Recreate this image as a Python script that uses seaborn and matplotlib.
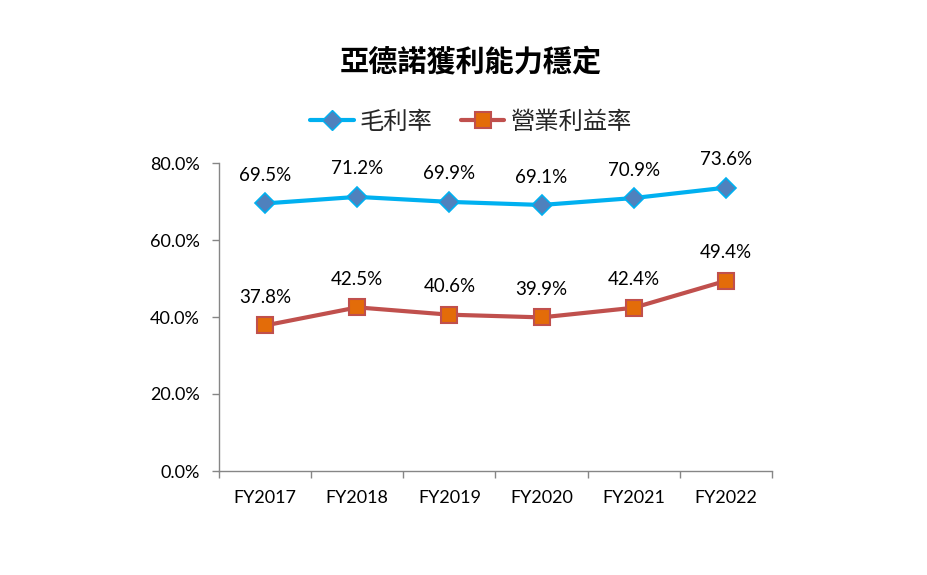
import matplotlib
matplotlib.use("Agg")
import matplotlib.pyplot as plt
import seaborn as sns
import pandas as pd
from matplotlib.ticker import FixedLocator, FuncFormatter
from matplotlib.lines import Line2D

categories = ["FY2017", "FY2018", "FY2019", "FY2020", "FY2021", "FY2022"]
gross_margin = [69.5, 71.2, 69.9, 69.1, 70.9, 73.6]
operating_margin = [37.8, 42.5, 40.6, 39.9, 42.4, 49.4]
yticks = [0, 20, 40, 60, 80]

sns.set_theme(style="white")
plt.rcParams['font.family'] = ['Lato', 'Noto Sans CJK TC', 'DejaVu Sans']

df = pd.DataFrame({"cat": categories, "gm": gross_margin, "om": operating_margin})

fig = plt.figure(figsize=(9.27, 5.75), dpi=100)
ax = fig.add_axes([219/927, 1-471/575, (772-219)/927, (471-163)/575])

cyan = "#00B0F0"
diam = "#4F81BD"
red = "#C0504D"
orange = "#E36C09"
gray = "#868686"

sns.lineplot(data=df, x="cat", y="gm", ax=ax, color=cyan, linewidth=3,
             marker="D", markersize=10, markerfacecolor=diam,
             markeredgecolor=cyan, markeredgewidth=1.2, sort=False)
sns.lineplot(data=df, x="cat", y="om", ax=ax, color=red, linewidth=3,
             marker="s", markersize=11, markerfacecolor=orange,
             markeredgecolor=red, markeredgewidth=1.5, sort=False)

for i, v in enumerate(gross_margin):
    ax.annotate(f"{v:.1f}%", (i, v), xytext=(0, 14), textcoords="offset points",
                ha="center", va="bottom", fontsize=13.5, color="#000000")
for i, v in enumerate(operating_margin):
    ax.annotate(f"{v:.1f}%", (i, v), xytext=(0, 14), textcoords="offset points",
                ha="center", va="bottom", fontsize=13.5, color="#000000")

ax.set_xlim(-0.5, len(categories) - 0.5)
ax.set_ylim(0, 80)
ax.yaxis.set_major_locator(FixedLocator(yticks))
ax.yaxis.set_major_formatter(FuncFormatter(lambda v, p: f"{v:.1f}%"))
ax.set_xlabel("")
ax.set_ylabel("")

for s in ["top", "right"]:
    ax.spines[s].set_visible(False)
for s in ["left", "bottom"]:
    ax.spines[s].set_color(gray)
    ax.spines[s].set_linewidth(1)

ax.tick_params(axis="y", which="major", left=True, length=5, width=1, color=gray,
               labelsize=13, pad=9, labelcolor="#000000")
ax.set_xticks(range(len(categories)))
ax.set_xticklabels(categories)
ax.set_xticks([i - 0.5 for i in range(len(categories) + 1)], minor=True)
ax.tick_params(axis="x", which="major", bottom=False, length=0, labelsize=13,
               pad=14, labelcolor="#000000")
ax.tick_params(axis="x", which="minor", bottom=True, length=5, width=1, color=gray)

fig.text(0.508, 1 - 62/575, "亞德諾獲利能力穩定", ha="center", va="center",
         fontsize=21, fontweight="bold", family=["Noto Sans CJK TC"], color="#000000")

handles = [
    Line2D([], [], color=cyan, linewidth=3, marker="D", markersize=10,
           markerfacecolor=diam, markeredgecolor=cyan),
    Line2D([], [], color=red, linewidth=3, marker="s", markersize=11,
           markerfacecolor=orange, markeredgecolor=red, markeredgewidth=1.5),
]
fig.legend(handles, ["毛利率", "營業利益率"], loc="center",
           bbox_to_anchor=(0.508, 1 - 122/575), ncol=2, frameon=False,
           prop={"family": ["Noto Sans CJK TC"], "size": 17.5},
           handlelength=1.8, columnspacing=1.15, handletextpad=0.25)

fig.savefig("out.png", dpi=100)
